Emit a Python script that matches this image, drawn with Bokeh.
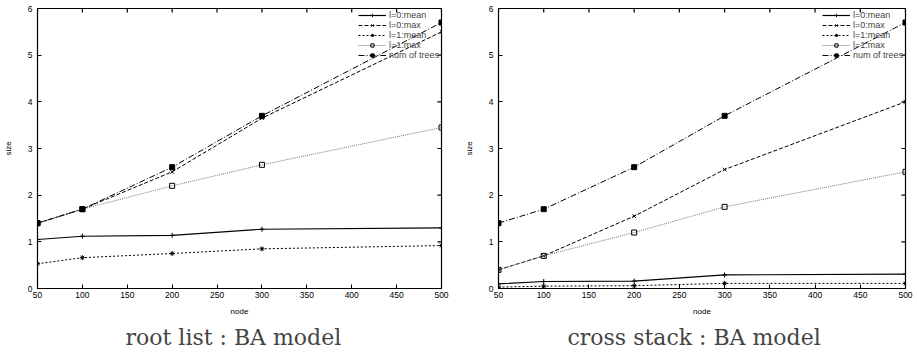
import math
from bokeh.plotting import figure
from bokeh.models import Range1d, FixedTicker, Title, Legend, LegendItem
from bokeh.layouts import row
from bokeh.embed import file_html
from bokeh.resources import INLINE

nodes = [50, 100, 200, 300, 500]
x_ticks = [50, 100, 150, 200, 250, 300, 350, 400, 450, 500]
y_ticks = [0, 1, 2, 3, 4, 5, 6]
series_names = ["l=0:mean", "l=0:max", "l=1:mean", "l=1:max", "num of trees"]

# root list : BA model
root_l0_mean = [1.05, 1.12, 1.14, 1.27, 1.30]
root_l0_max = [1.40, 1.70, 2.50, 3.65, 5.50]
root_l1_mean = [0.53, 0.66, 0.75, 0.85, 0.92]
root_l1_max = [1.40, 1.70, 2.20, 2.65, 3.45]
root_trees = [1.40, 1.70, 2.60, 3.70, 5.70]

# cross stack : BA model
cross_l0_mean = [0.10, 0.15, 0.16, 0.29, 0.31]
cross_l0_max = [0.40, 0.70, 1.55, 2.55, 4.00]
cross_l1_mean = [0.03, 0.05, 0.06, 0.11, 0.11]
cross_l1_max = [0.40, 0.70, 1.20, 1.75, 2.50]
cross_trees = [1.40, 1.70, 2.60, 3.70, 5.70]

STYLES = [
    dict(color="black", dash="solid", marker="cross", fill=True, width=1.2),
    dict(color="black", dash="4 2", marker="x", fill=True, width=1.0),
    dict(color="black", dash="2 2", marker="asterisk", fill=True, width=1.0),
    dict(color="#777777", dash="1 1", marker="square", fill=False, width=1.0),
    dict(color="black", dash="6 2 1 2", marker="square", fill=True, width=1.0),
]

SANS = "Liberation Sans"
X_MIN, X_MAX, Y_MIN, Y_MAX = 50, 500, 0, 6


def make_panel(series, caption, width, left, right, cap_offset):
    p = figure(width=width, height=353, output_backend="svg", toolbar_location=None,
               x_range=Range1d(X_MIN, X_MAX), y_range=Range1d(Y_MIN, Y_MAX),
               min_border_left=left, min_border_right=right,
               min_border_top=8, min_border_bottom=63)
    p.grid.visible = False
    p.outline_line_color = "black"
    p.outline_line_width = 1.2
    p.background_fill_color = "white"
    p.border_fill_color = "white"

    p.xaxis.ticker = FixedTicker(ticks=x_ticks)
    p.yaxis.ticker = FixedTicker(ticks=y_ticks)
    p.xaxis.axis_label = "node"
    p.yaxis.axis_label = "size"
    for ax in (p.xaxis[0], p.yaxis[0]):
        ax.major_tick_in = 4
        ax.major_tick_out = 0
        ax.minor_tick_line_color = None
        ax.major_label_text_font = SANS
        ax.major_label_text_font_size = "8.5px"
        ax.major_label_text_color = "black"
        ax.axis_label_text_font = SANS
        ax.axis_label_text_font_size = "8px"
        ax.axis_label_text_font_style = "normal"
        ax.axis_label_text_color = "black"
        ax.axis_line_color = "black"
        ax.major_tick_line_color = "black"
    p.xaxis.major_label_standoff = 3
    p.xaxis.axis_label_standoff = 6
    p.yaxis.major_label_standoff = 5
    p.yaxis.axis_label_standoff = 12

    # mirrored tick marks on the top and right frame edges (half outside is clipped)
    p.scatter(x_ticks, [Y_MAX] * len(x_ticks), marker="dash", size=8, angle=math.pi / 2,
              line_color="black", line_width=1.2)
    p.scatter([X_MAX] * len(y_ticks), y_ticks, marker="dash", size=8,
              line_color="black", line_width=1.2)

    items = []
    for name, ys, st in zip(series_names, series, STYLES):
        ln = p.line(nodes, ys, line_color=st["color"], line_dash=st["dash"], line_width=st["width"])
        mk = p.scatter(nodes, ys, marker=st["marker"], size=5, line_color="black",
                       fill_color="black" if st["fill"] else None, line_width=1)
        items.append(LegendItem(label=name, renderers=[ln, mk]))
    leg = Legend(items=items, location="top_right", border_line_alpha=0,
                 background_fill_alpha=0, label_text_font=SANS, label_text_font_size="9px",
                 label_height=8, glyph_height=8, glyph_width=28, spacing=0, padding=1,
                 margin=1, label_standoff=3)
    p.add_layout(leg)

    cap = Title(text=caption, align="left", text_font="DejaVu Serif",
                text_font_size="22px", text_font_style="normal", standoff=8, offset=cap_offset)
    p.add_layout(cap, "below")
    return p


p1 = make_panel([root_l0_mean, root_l0_max, root_l1_mean, root_l1_max, root_trees],
                "root list : BA model", 460, 34, 19, 88)
p2 = make_panel([cross_l0_mean, cross_l0_max, cross_l1_mean, cross_l1_max, cross_trees],
                "cross stack : BA model", 457, 38, 12, 69)

layout = row(p1, p2)
open("out.html", "w").write(file_html(layout, INLINE))
